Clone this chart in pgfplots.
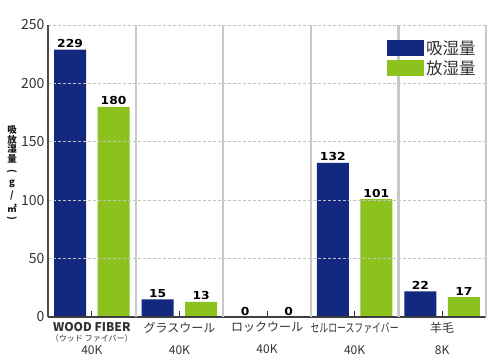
\documentclass[border=0pt]{standalone}
\usepackage{fontspec}
\setmainfont{Noto Sans CJK JP}
\newfontfamily\numfont{DejaVu Sans}
\usepackage{pgfplots}
\pgfplotsset{compat=1.18}
\definecolor{cblue}{HTML}{13287F}
\definecolor{cgreen}{HTML}{8CC21E}
\definecolor{sepgray}{HTML}{C8C8C8}
\definecolor{gridgray}{HTML}{C2C2C2}
\definecolor{txt}{HTML}{333333}
\begin{document}
\begin{tikzpicture}
\begin{axis}[
  scale only axis, width=438pt, height=292pt,
  xmin=-0.5, xmax=4.5, ymin=0, ymax=250,
  axis x line=bottom, axis y line=left,
  x axis line style={-, draw=black!75, line width=1.2pt},
  y axis line style={-, draw=black!70, line width=1.2pt},
  axis on top,
  ybar, bar width=32pt,
  ytick={0,50,...,250},
  ymajorgrids,
  major grid style={dashed, dash pattern=on 3pt off 2pt, color=gridgray, line width=0.8pt},
  ytick style={draw=none},
  xtick={0,1,2,3,4},
  xtick style={draw=black!80, line width=0.8pt},
  tick align=inside, major tick length=6pt,
  xticklabels={
    {{\bfseries WOOD FIBER}\\[-1pt]{\fontsize{8}{8}\selectfont （ウッド ファイバー）}\\[2pt]40K},
    {グラスウール\\[11pt]40K},
    {ロックウール\\[11pt]40K},
    {\scalebox{0.74}[1]{セルロースファイバー}\\[11pt]40K},
    {羊毛\\[11pt]8K}},
  xticklabel style={align=center, font=\fontsize{12}{11}\selectfont, text=txt, inner sep=0pt, yshift=-5pt},
  yticklabel style={font=\fontsize{14}{14}\selectfont, text=txt},
  /pgf/number format/assume math mode=true,
  extra x ticks={0.5,1.5,2.5,3.5,4.5},
  extra x tick labels={},
  extra x tick style={xmajorgrids=true, major tick length=0pt,
     major grid style={solid, color=sepgray, line width=2.2pt}},
  nodes near coords={\scalebox{1.12}[1]{\pgfmathprintnumber{\pgfplotspointmeta}}},
  every node near coord/.append style={font={\fontsize{11}{11}\numfont\bfseries}, text=black, inner sep=1.5pt},
  legend image code/.code={\fill[#1] (0pt,-8pt) rectangle (37pt,8pt);},
  legend style={at={(axis description cs:0.774,0.955)}, anchor=north west, draw=none, fill=none,
     font=\fontsize{16.5}{16.5}\selectfont, text=txt, row sep=1pt, inner sep=0pt,
     nodes={inner sep=2pt}},
  legend cell align=left,
]
\addplot[draw=none, fill=cblue, bar shift=-21.75pt] coordinates {(0,229) (1,15) (2,0) (3,132) (4,22)};
\addlegendentry{吸湿量}
\addplot[draw=none, fill=cgreen, bar shift=21.75pt] coordinates {(0,180) (1,13) (2,0) (3,101) (4,17)};
\addlegendentry{放湿量}
\end{axis}
\begin{scope}[every node/.style={font=\bfseries\fontsize{9.5}{9.5}\selectfont, text=black!90, inner sep=0pt}]
\node at (-36pt,187pt) {吸};
\node at (-36pt,177.5pt) {放};
\node at (-36pt,168pt) {湿};
\node at (-36pt,158.5pt) {量};
\node at (-36pt,146pt) {\rotatebox{-90}{(}};
\node at (-36pt,133pt) {g};
\node at (-36pt,121pt) {/};
\node at (-36pt,109pt) {㎡};
\node at (-36pt,99pt) {\rotatebox{-90}{)}};
\end{scope}
\path[use as bounding box] (-48pt,-43pt) rectangle (452pt,317pt);
\end{tikzpicture}
\end{document}
